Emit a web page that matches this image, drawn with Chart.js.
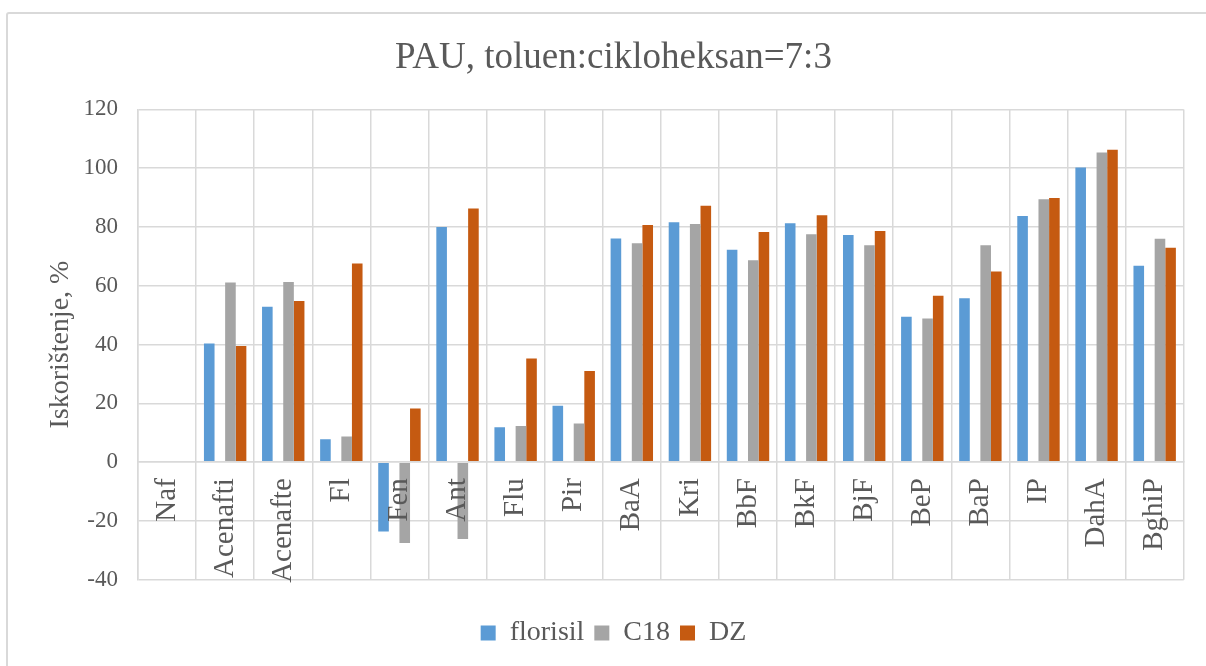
<!DOCTYPE html>
<html>
<head>
<meta charset="utf-8">
<title>PAU, toluen:cikloheksan=7:3</title>
<script src="https://cdn.jsdelivr.net/npm/chart.js@4.4.1/dist/chart.umd.min.js"></script>
<style>
    html, body { margin: 0; padding: 0; background: #ffffff; overflow: hidden; }
    #frame {
        position: absolute; left: 6px; top: 12px;
        width: 1230px; height: 700px;
        border: 2px solid #d9d9d9; border-radius: 3px;
    }
    #wrap { position: absolute; left: 0; top: 0; width: 1206px; height: 666px; }
</style>
</head>
<body>
<div id="frame"></div>
<div id="wrap"><canvas id="pauChart"></canvas></div>
<script>
// Categories (PAU compounds)
const categories = ['Naf', 'Acenafti', 'Acenafte', 'Fl', 'Fen', 'Ant', 'Flu', 'Pir', 'BaA', 'Kri',
    'BbF', 'BkF', 'BjF', 'BeP', 'BaP', 'IP', 'DahA', 'BghiP'];

// Recovery, %
const florisil = [null, 40.4, 52.9, 7.8, -23.6, 80.0, 11.9, 19.2, 76.1, 81.6, 72.3, 81.3, 77.3, 49.5, 55.8, 83.7, 100.2, 66.8];
const c18 = [null, 61.1, 61.3, 8.7, -27.5, -26.1, 12.3, 13.2, 74.5, 81.0, 68.7, 77.5, 73.8, 48.9, 73.8, 89.4, 105.3, 76.0];
const dz = [null, 39.5, 54.8, 67.6, 18.3, 86.3, 35.3, 31.0, 80.7, 87.2, 78.3, 84.0, 78.6, 56.6, 64.9, 89.9, 106.3, 72.9];

// Empty series that keeps the slot between florisil and C18
const emptySeries = [];

const yTicks = { min: -40, max: 120, step: 20 };

const textColor = '#595959';
const gridColor = '#d9d9d9';
const serif = "'Liberation Serif', 'Times New Roman', serif";

const ctx = document.getElementById('pauChart').getContext('2d');

new Chart(ctx, {
    type: 'bar',
    data: {
        labels: categories,
        datasets: [
            { label: 'florisil', data: florisil, backgroundColor: '#5b9bd5' },
            { label: '', data: emptySeries, backgroundColor: 'rgba(0,0,0,0)' },
            { label: 'C18', data: c18, backgroundColor: '#a5a5a5' },
            { label: 'DZ', data: dz, backgroundColor: '#c55a11' }
        ]
    },
    options: {
        responsive: true,
        maintainAspectRatio: false,
        animation: false,
        datasets: {
            bar: { categoryPercentage: 0.73, barPercentage: 1.0, borderWidth: 0 }
        },
        layout: {
            padding: { left: 40, right: 19, top: 0, bottom: 9 }
        },
        scales: {
            x: {
                type: 'category',
                position: { y: 0 },
                offset: true,
                grid: { color: gridColor, lineWidth: 1.5, drawTicks: false, offset: true },
                border: { display: true, color: gridColor, width: 1.5, z: 1 },
                ticks: {
                    z: 1, // category names sit on top of the negative bars
                    autoSkip: false,
                    minRotation: 90,
                    maxRotation: 90,
                    padding: 16,
                    color: textColor,
                    font: { family: serif, size: 29 }
                }
            },
            y: {
                min: yTicks.min,
                max: yTicks.max,
                grid: { color: gridColor, lineWidth: 1.5, drawTicks: false },
                border: { display: true, color: gridColor, width: 1.5 },
                ticks: {
                    stepSize: yTicks.step,
                    padding: 20,
                    color: textColor,
                    font: { family: serif, size: 23 }
                },
                title: {
                    display: true,
                    text: 'Iskorištenje, %',
                    color: textColor,
                    padding: { top: 4, bottom: 0 },
                    font: { family: serif, size: 28 }
                },
                afterFit: function (scale) {
                    scale.width = 98;
                }
            }
        },
        plugins: {
            title: {
                display: true,
                text: 'PAU, toluen:cikloheksan=7:3',
                color: textColor,
                padding: { top: 36, bottom: 29 },
                font: { family: serif, size: 37, weight: 'normal' }
            },
            legend: {
                position: 'bottom',
                title: { display: true, text: '', padding: { top: 28, bottom: 0 }, font: { size: 1 } },
                labels: {
                    filter: item => item.text !== '',
                    boxWidth: 15,
                    boxHeight: 15,
                    padding: 10,
                    color: textColor,
                    font: { family: serif, size: 28 }
                }
            },
            tooltip: { enabled: false }
        }
    }
});
</script>
</body>
</html>
